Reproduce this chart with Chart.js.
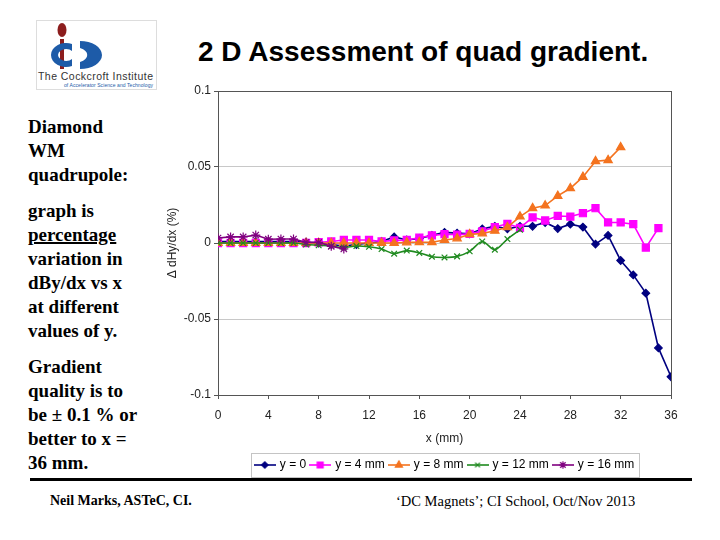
<!DOCTYPE html>
<html>
<head>
<meta charset="utf-8">
<script src="https://cdn.jsdelivr.net/npm/chart.js@4.4.0/dist/chart.umd.min.js"></script>
<style>
  body { margin: 0; width: 720px; height: 540px; background: #fff; position: relative; overflow: hidden;
         font-family: 'Liberation Serif', 'Times New Roman', serif; color: #000; }
  #logo { position: absolute; left: 36px; top: 20px; }
  #title { position: absolute; left: 198px; top: 36px; font: bold 28px Arial, 'Liberation Sans', sans-serif; white-space: nowrap; }
  .side { position: absolute; left: 28px; font-weight: bold; font-size: 19px; line-height: 24px; white-space: nowrap; }
  .side u { text-decoration-thickness: 2px; }
  #wrap { position: absolute; left: 160px; top: 80px; width: 570px; height: 405px; }
  #rule { position: absolute; left: 30px; top: 478px; width: 662px; height: 3px; background: #000; }
  .foot { position: absolute; top: 493px; white-space: nowrap; }
</style>
</head>
<body>
<svg id="logo" width="121" height="70" viewBox="0 0 121 70">
  <rect x="0.5" y="0.5" width="120" height="69" fill="none" stroke="#ddd"/>
  <ellipse cx="26" cy="10" rx="4.5" ry="7" fill="#8c1d1d"/>
  <rect x="24" y="19" width="4" height="30" fill="#8c1d1d"/>
  <path d="M36 24 A15 12 0 1 0 36 46 L36 39 A8 6 0 1 1 36 31 Z" fill="#1d5ba8"/>
  <path d="M44 21 A22 14 0 0 1 44 49 L44 42 A14 8 0 0 0 44 28 Z" fill="#1d5ba8"/>
  <text x="2" y="60" font-family="Arial, 'Liberation Sans', sans-serif" font-size="10.5" fill="#333" textLength="115">The Cockcroft Institute</text>
  <text x="28" y="67" font-family="Arial, 'Liberation Sans', sans-serif" font-size="5" fill="#1d5ba8" textLength="89">of Accelerator Science and Technology</text>
</svg>

<div id="title">2 D Assessment of quad gradient.</div>

<div class="side" style="top:115px">Diamond<br>WM<br>quadrupole:</div>
<div class="side" style="top:199px">graph is<br><u>percentage</u><br>variation in<br>dBy/dx vs x<br>at different<br>values of y.</div>
<div class="side" style="top:355px">Gradient<br>quality is to<br>be &plusmn; 0.1 % or<br>better to x =<br>36 mm.</div>

<div id="wrap"><canvas id="chart"></canvas></div>

<div id="rule"></div>
<div class="foot" style="left:50px;font-weight:bold;font-size:14px">Neil Marks, ASTeC, CI.</div>
<div class="foot" style="left:396px;font-size:14.5px">&lsquo;DC Magnets&rsquo;; CI School, Oct/Nov 2013</div>

<script>
const xValues = [0, 1, 2, 3, 4, 5, 6, 7, 8, 9, 10, 11, 12, 13, 14, 15, 16, 17, 18, 19, 20,
  21, 22, 23, 24, 25, 26, 27, 28, 29, 30, 31, 32, 33, 34, 35, 36];

// one list per y position (x = 0, 1, 2 ... mm)
const y0 = [0.001, 0.001, 0.001, 0.001, 0.001, 0.001, 0.001, 0.0005, 0, -0.001,
  -0.002, -0.001, 0, 0.001, 0.004, 0.002, 0.003, 0.005, 0.007, 0.0065,
  0.006, 0.0093, 0.011, 0.0093, 0.011, 0.011, 0.0135, 0.0095, 0.0124, 0.0105,
  -0.0007, 0.005, -0.0115, -0.021, -0.033, -0.069, -0.088];
const y4 = [0, 0, 0, 0, 0, 0, 0, 0, 0.0005, 0.001,
  0.002, 0.002, 0.002, 0.001, 0.0017, 0.002, 0.0035, 0.005, 0.0058, 0.0055,
  0.006, 0.0077, 0.0105, 0.0126, 0.0100, 0.0168, 0.0148, 0.0178, 0.0174, 0.0196,
  0.0229, 0.0135, 0.0135, 0.0124, -0.003, 0.0098];
const y8 = [0, 0, 0, 0, 0, 0, 0, 0, 0, 0,
  0, 0, 0, 0, 0, 0.0004, 0.0005, 0.0005, 0.002, 0.003,
  0.0057, 0.0063, 0.008, 0.0104, 0.0174, 0.0229, 0.0246, 0.031, 0.036, 0.0435,
  0.0538, 0.0545, 0.063];
const y12 = [0, 0, 0, 0, 0, 0, 0, -0.001, -0.0015, -0.002,
  -0.003, -0.002, -0.0025, -0.004, -0.007, -0.005, -0.0065, -0.009, -0.0095, -0.0088,
  -0.0055, 0.001, -0.0044, 0.0026, 0.0087];
const y16 = [0.0033, 0.004, 0.004, 0.0052, 0.0025, 0.0026, 0.0026, 0.0005, 0.0004, -0.0022, -0.0039];

const seriesNames = ['y = 0', 'y = 4 mm', 'y = 8 mm', 'y = 12 mm', 'y = 16 mm'];
const seriesColors = ['#000080', '#ff00ff', '#f4731f', '#1f8a1f', '#800080'];
const yTicks = [-0.1, -0.05, 0, 0.05, 0.1];
const xTicks = [0, 4, 8, 12, 16, 20, 24, 28, 32, 36];

const markers = [
  { pointStyle: 'rectRot', pointRadius: 3.8 },
  { pointStyle: 'rect', pointRadius: 5 },
  { pointStyle: 'triangle', pointRadius: 4.8 },
  { pointStyle: 'crossRot', pointRadius: 4 },
  { pointStyle: 'star', pointRadius: 4.5 },
];

const toPoints = (vals) => vals.map((v, i) => ({ x: xValues[i], y: v }));
const allSeries = [y0, y4, y8, y12, y16];

Chart.defaults.font.family = "Arial, 'Liberation Sans', sans-serif";
Chart.defaults.font.size = 12;
Chart.defaults.color = '#222';

const datasets = allSeries.map((vals, i) => ({
  label: seriesNames[i],
  data: toPoints(vals),
  borderColor: seriesColors[i],
  backgroundColor: seriesColors[i],
  pointBackgroundColor: seriesColors[i],
  pointBorderColor: seriesColors[i],
  borderWidth: 1.6,
  pointBorderWidth: 1.2,
  pointStyle: markers[i].pointStyle,
  pointRadius: markers[i].pointRadius,
  tension: i === 3 ? 0.3 : 0,
  order: 4 - i,
  xAxisID: 'x',
  yAxisID: 'y',
}));

// small line + marker pictures for the legend
const legendIcons = datasets.map((d) => {
  const c = document.createElement('canvas');
  c.width = 22; c.height = 12;
  const g = c.getContext('2d');
  g.strokeStyle = d.borderColor; g.lineWidth = 1.6;
  g.beginPath(); g.moveTo(0, 6); g.lineTo(22, 6); g.stroke();
  g.fillStyle = d.borderColor; g.strokeStyle = d.borderColor; g.lineWidth = 1.2;
  if (Chart.helpers && Chart.helpers.drawPoint) {
    Chart.helpers.drawPoint(g, { pointStyle: d.pointStyle, radius: d.pointRadius * 0.85, rotation: 0, borderWidth: 1.2 }, 11, 6);
  }
  return c;
});

const legendFrame = {
  id: 'legendFrame',
  afterDraw(chart) {
    const boxes = chart.legend.legendHitBoxes;
    if (!boxes || !boxes.length) return;
    const left = Math.min(...boxes.map((b) => b.left)) - 5;
    const right = Math.max(...boxes.map((b) => b.left + b.width)) + 5;
    const top = Math.min(...boxes.map((b) => b.top)) - 6;
    const bottom = Math.max(...boxes.map((b) => b.top + b.height)) + 6;
    const ctx = chart.ctx;
    ctx.save();
    ctx.strokeStyle = '#c4c4c4';
    ctx.lineWidth = 1;
    ctx.strokeRect(Math.round(left) + 0.5, Math.round(top) + 0.5, Math.round(right - left), Math.round(bottom - top));
    ctx.restore();
  },
};

new Chart(document.getElementById('chart'), {
  type: 'line',
  data: { datasets },
  options: {
    responsive: true,
    maintainAspectRatio: false,
    animation: false,
    layout: { padding: { top: 0, left: 0, right: 0, bottom: 4 } },
    plugins: {
      tooltip: { enabled: false },
      legend: {
        position: 'bottom',
        labels: {
          usePointStyle: true,
          pointStyleWidth: 18,
          padding: 5,
          color: '#222',
          font: { size: 12 },
          generateLabels: (chart) => chart.data.datasets.map((d, i) => ({
            text: d.label,
            pointStyle: legendIcons[i],
            fillStyle: d.borderColor,
            strokeStyle: d.borderColor,
            lineWidth: 0,
            hidden: false,
            datasetIndex: i,
          })),
        },
      },
    },
    scales: {
      x: {
        type: 'linear',
        min: 0,
        max: 36,
        afterBuildTicks: (s) => { s.ticks = xTicks.map((v) => ({ value: v })); },
        afterFit: (s) => { s.height = 59; },
        ticks: { padding: 9, color: '#222' },
        grid: { drawOnChartArea: false, drawTicks: true, tickLength: 4, tickColor: '#555' },
        border: { color: '#555', width: 1 },
        title: { display: true, text: 'x (mm)', color: '#222', padding: { top: 4, bottom: 8 } },
      },
      x2: {
        type: 'linear',
        position: 'top',
        min: 0,
        max: 36,
        grid: { display: false },
        ticks: { display: false },
        border: { color: '#555', width: 1 },
        afterFit: (s) => { s.height = 11; },
      },
      y: {
        type: 'linear',
        min: -0.1,
        max: 0.1,
        afterBuildTicks: (s) => { s.ticks = yTicks.map((v) => ({ value: v })); },
        afterFit: (s) => { s.width = 58; },
        ticks: {
          padding: 3,
          color: '#222',
          callback: (v) => String(Number(v.toFixed(2))),
        },
        grid: {
          color: (c) => (c.tick && Math.abs(c.tick.value) > 0.09 ? 'rgba(0,0,0,0)' : '#c8c8c8'),
          tickLength: 4,
          tickColor: '#555',
        },
        border: { color: '#555', width: 1 },
        title: { display: true, text: '\u0394 dHy/dx (%)', color: '#222', padding: { top: 5, bottom: 2 } },
      },
      y2: {
        type: 'linear',
        position: 'right',
        min: -0.1,
        max: 0.1,
        grid: { display: false },
        ticks: { display: false },
        border: { color: '#555', width: 1 },
        afterFit: (s) => { s.width = 59; },
      },
    },
  },
  plugins: [legendFrame],
});
</script>
</body>
</html>
